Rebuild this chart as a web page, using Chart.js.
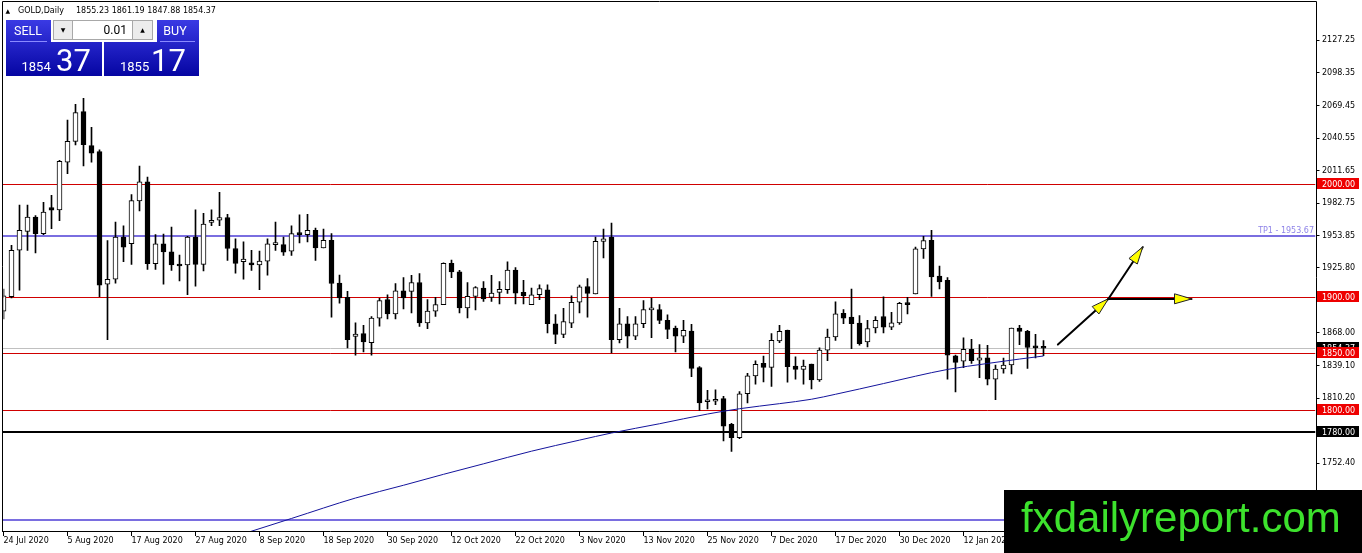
<!DOCTYPE html>
<html><head><meta charset="utf-8">
<script src="https://cdn.jsdelivr.net/npm/chart.js@4.4.1/dist/chart.umd.min.js"></script>
<style>html,body{margin:0;padding:0;background:#fff;overflow:hidden}#wrap{position:relative;width:1362px;height:553px}canvas{display:block}</style>
</head><body><div id="wrap"><canvas id="c" width="1362" height="553"></canvas></div>
<script>
const dates = [
'24 Jul 2020','27 Jul 2020','28 Jul 2020','29 Jul 2020','30 Jul 2020','31 Jul 2020',
'3 Aug 2020','4 Aug 2020','5 Aug 2020','6 Aug 2020','7 Aug 2020','10 Aug 2020','11 Aug 2020','12 Aug 2020','13 Aug 2020','14 Aug 2020',
'17 Aug 2020','18 Aug 2020','19 Aug 2020','20 Aug 2020','21 Aug 2020','24 Aug 2020','25 Aug 2020','26 Aug 2020','27 Aug 2020','28 Aug 2020','31 Aug 2020',
'1 Sep 2020','2 Sep 2020','3 Sep 2020','4 Sep 2020','7 Sep 2020','8 Sep 2020','9 Sep 2020','10 Sep 2020','11 Sep 2020','14 Sep 2020','15 Sep 2020','16 Sep 2020','17 Sep 2020','18 Sep 2020',
'21 Sep 2020','22 Sep 2020','23 Sep 2020','24 Sep 2020','25 Sep 2020','28 Sep 2020','29 Sep 2020','30 Sep 2020',
'1 Oct 2020','2 Oct 2020','5 Oct 2020','6 Oct 2020','7 Oct 2020','8 Oct 2020','9 Oct 2020','12 Oct 2020','13 Oct 2020','14 Oct 2020','15 Oct 2020','16 Oct 2020',
'19 Oct 2020','20 Oct 2020','21 Oct 2020','22 Oct 2020','23 Oct 2020','26 Oct 2020','27 Oct 2020','28 Oct 2020','29 Oct 2020','30 Oct 2020',
'2 Nov 2020','3 Nov 2020','4 Nov 2020','5 Nov 2020','6 Nov 2020','9 Nov 2020','10 Nov 2020','11 Nov 2020','12 Nov 2020','13 Nov 2020',
'16 Nov 2020','17 Nov 2020','18 Nov 2020','19 Nov 2020','20 Nov 2020','23 Nov 2020','24 Nov 2020','25 Nov 2020','26 Nov 2020','27 Nov 2020','30 Nov 2020',
'1 Dec 2020','2 Dec 2020','3 Dec 2020','4 Dec 2020','7 Dec 2020','8 Dec 2020','9 Dec 2020','10 Dec 2020','11 Dec 2020',
'14 Dec 2020','15 Dec 2020','16 Dec 2020','17 Dec 2020','18 Dec 2020','21 Dec 2020','22 Dec 2020','23 Dec 2020','24 Dec 2020',
'28 Dec 2020','29 Dec 2020','30 Dec 2020','31 Dec 2020',
'4 Jan 2021','5 Jan 2021','6 Jan 2021','7 Jan 2021','8 Jan 2021','11 Jan 2021','12 Jan 2021','13 Jan 2021','14 Jan 2021','15 Jan 2021',
'18 Jan 2021','19 Jan 2021','20 Jan 2021','21 Jan 2021','22 Jan 2021','25 Jan 2021','26 Jan 2021'];

const opens = [1887.2,1900.0,1941.2,1957.9,1970.5,1955.9,1979.0,1976.9,2019.3,2037.7,2064.0,2033.9,2028.6,1911.1,1915.5,1952.9,
1947.1,1984.8,2001.8,1929.3,1946.8,1939.8,1928.1,1928.1,1952.9,1928.7,1965.8,1967.8,1970.2,1942.7,1931.0,1930.1,
1928.1,1931.6,1946.2,1946.2,1940.4,1956.2,1955.0,1958.8,1943.3,1950.0,1912.0,1899.4,1864.9,1867.3,1859.4,1881.0,
1897.4,1884.8,1905.3,1904.7,1912.6,1876.9,1887.2,1893.0,1929.6,1922.0,1890.1,1900.3,1907.6,1899.4,1903.8,1906.2,
1923.7,1903.8,1893.0,1901.8,1906.2,1876.1,1866.7,1876.6,1895.1,1909.1,1902.4,1949.1,1952.9,1862.0,1876.1,1865.0,
1876.1,1888.3,1888.6,1879.0,1872.3,1865.0,1869.6,1837.2,1807.0,1807.4,1809.7,1786.9,1775.2,1814.1,1829.9,1841.0,
1837.5,1860.9,1870.2,1838.6,1835.7,1840.4,1826.4,1852.7,1864.3,1885.4,1881.9,1876.6,1860.0,1872.3,1882.5,1873.1,
1876.9,1893.6,1902.4,1942.4,1950.0,1918.4,1914.6,1847.7,1843.0,1853.5,1843.9,1845.9,1826.9,1836.0,1839.5,1872.3,
1869.3,1855.3,1855.23];
const highs = [1906.7,1945.6,1981.3,1981.3,1972.0,1983.6,1989.8,2020.8,2056.4,2070.4,2075.7,2050.0,2030.1,1949.7,1966.1,1962.9,
1990.6,2015.8,2006.1,1955.0,1955.6,1961.7,1936.9,1953.5,1976.9,1974.0,1976.9,1992.4,1973.1,1951.2,1948.6,1941.2,
1940.4,1951.2,1966.1,1952.9,1962.9,1972.5,1973.1,1960.8,1960.0,1955.9,1919.3,1904.7,1876.9,1874.6,1882.5,1898.6,
1901.8,1911.7,1917.0,1919.0,1920.5,1897.4,1899.4,1930.1,1932.5,1923.4,1912.6,1909.1,1913.5,1919.0,1913.5,1931.0,
1925.8,1914.6,1907.6,1910.6,1910.6,1884.2,1889.8,1900.9,1910.3,1916.1,1952.9,1960.0,1965.2,1889.8,1882.5,1882.5,
1896.5,1898.6,1893.0,1883.9,1874.0,1879.0,1875.5,1838.1,1817.0,1817.6,1811.7,1787.8,1816.1,1832.2,1843.3,1847.5,
1867.3,1874.6,1870.5,1846.7,1843.8,1840.4,1854.7,1871.4,1895.6,1888.6,1906.8,1883.4,1879.0,1882.5,1900.0,1886.3,
1895.1,1899.4,1943.9,1953.5,1958.8,1927.2,1917.0,1848.3,1863.5,1862.3,1857.6,1857.0,1839.5,1845.6,1872.3,1874.6,
1870.2,1866.7,1861.19];
const lows = [1880.4,1898.9,1905.9,1941.0,1938.9,1955.0,1960.2,1967.3,2009.1,2034.5,2015.8,2019.3,1900.0,1862.0,1912.0,1931.0,
1928.7,1976.0,1924.3,1924.3,1911.1,1923.4,1914.1,1901.8,1909.4,1922.8,1962.9,1962.9,1932.2,1920.8,1915.5,1923.4,
1906.2,1919.0,1941.0,1936.6,1936.6,1947.7,1948.6,1932.2,1943.3,1881.9,1894.2,1854.7,1848.3,1851.2,1848.3,1874.0,
1880.4,1880.4,1889.2,1885.7,1873.7,1871.7,1882.5,1893.0,1917.0,1885.7,1881.3,1888.3,1895.9,1895.9,1893.6,1902.9,
1893.6,1893.6,1893.0,1897.4,1867.9,1858.5,1863.8,1872.6,1885.7,1881.9,1902.4,1934.5,1850.3,1859.1,1854.7,1862.0,
1872.6,1863.8,1876.1,1862.9,1851.2,1859.4,1829.3,1799.4,1800.6,1804.4,1772.3,1762.9,1774.3,1805.9,1822.6,1824.5,
1820.5,1859.4,1824.3,1826.9,1822.6,1818.3,1825.1,1843.3,1861.4,1876.1,1854.1,1857.0,1855.6,1867.9,1867.9,1870.8,
1875.4,1884.8,1902.4,1933.9,1900.3,1907.0,1827.0,1815.6,1837.2,1841.0,1828.4,1822.0,1808.8,1832.2,1831.6,1857.6,
1836.6,1845.9,1847.88];
const closes = [1900.9,1941.2,1958.8,1970.5,1955.9,1974.9,1976.8,2019.9,2037.7,2063.1,2034.8,2027.2,1910.3,1915.5,1952.9,1943.9,
1985.1,2001.8,1929.3,1946.8,1939.8,1928.1,1927.2,1952.9,1928.7,1964.3,1967.6,1970.2,1942.7,1929.6,1933.4,1928.1,
1931.6,1946.8,1947.1,1939.5,1955.9,1955.0,1958.8,1943.3,1950.0,1911.7,1898.9,1862.0,1867.0,1860.0,1881.0,1896.5,
1884.8,1905.3,1898.9,1912.6,1876.9,1887.2,1893.0,1929.6,1922.0,1890.1,1900.3,1908.2,1898.0,1903.2,1906.5,1923.7,
1903.2,1900.9,1901.8,1907.3,1876.1,1866.7,1878.1,1895.1,1908.8,1903.0,1949.1,1951.2,1862.0,1876.1,1865.0,1876.1,
1888.6,1889.2,1879.0,1871.1,1865.0,1870.2,1836.6,1805.9,1808.3,1808.8,1785.4,1775.2,1814.1,1829.9,1840.1,1837.5,
1861.4,1869.3,1838.1,1835.7,1838.6,1826.4,1852.7,1864.3,1884.8,1881.0,1876.1,1858.5,1871.7,1879.0,1873.1,1876.9,
1894.2,1893.0,1942.4,1949.7,1917.6,1913.2,1848.3,1841.9,1853.5,1843.3,1845.9,1826.9,1836.0,1839.5,1872.3,1869.3,
1855.0,1854.7,1854.37];

const maBars   = [26, 31, 36, 44, 50, 55, 60, 66, 72, 76, 82, 88, 92, 97, 101, 104, 110, 114, 118, 123, 127, 130];
const maValues = [1681.0,1692.3,1703.6,1721.7,1733.0,1742.7,1752.0,1763.2,1773.0,1779.3,1787.5,1796.1,1800.8,1805.3,1809.2,1813.6,1823.1,1829.6,1835.6,1840.9,1844.8,1847.5];

const yTickValues = [2127.25,2098.35,2069.45,2040.55,2011.65,1982.75,1953.85,1925.80,1896.90,1868.00,1839.10,1810.20,1781.30,1752.40,1723.50];
const redLevels = [2000, 1900, 1850, 1800];
const blackLevels = [1780];
const tpLevel = 1953.67;
const lowBlueLevel = 1702;
const lastPrice = 1854.37;
const headerSymbol = 'GOLD,Daily';
const headerOHLC = ['1855.23','1861.19','1847.88','1854.37'];
const bidParts = ['1854','37'];
const askParts = ['1855','17'];
const lotText = '0.01';
const arrowStart = [131.8, 1857.6];
const arrowMid = [138.1, 1898.0];
const arrowUp = [142.4, 1943.9];
const arrowRight = [148.5, 1898.0];
const futureBars = 34;

const labels = dates.concat(new Array(futureBars).fill(''));
const bodies = opens.map((o, i) => [o, closes[i]]);
const wicks = lows.map((l, i) => [l, highs[i]]);
const bodyColors = opens.map((o, i) => closes[i] >= o ? '#ffffff' : '#000000');
const maData = labels.map(() => null);
maBars.forEach((b, k) => { maData[b] = maValues[k]; });

const FONT = '"DejaVu Sans"';
const SLATE = '#7a6ee0';

function drawArrow(ctx, x1, y1, x2, y2) {
  ctx.save();
  ctx.strokeStyle = '#000'; ctx.lineWidth = 2; ctx.lineCap = 'round';
  ctx.beginPath(); ctx.moveTo(x1, y1); ctx.lineTo(x2, y2); ctx.stroke();
  const ang = Math.atan2(y2 - y1, x2 - x1);
  const len = 17, hw = 4.8;
  const bx = x2 - len * Math.cos(ang), by = y2 - len * Math.sin(ang);
  const px = -Math.sin(ang) * hw, py = Math.cos(ang) * hw;
  ctx.beginPath();
  ctx.moveTo(x2, y2); ctx.lineTo(bx + px, by + py); ctx.lineTo(bx - px, by - py); ctx.closePath();
  ctx.fillStyle = '#ffff00'; ctx.fill();
  ctx.lineWidth = 1; ctx.strokeStyle = '#222'; ctx.stroke();
  ctx.restore();
}

const mtPlugin = {
  id: 'mt',
  beforeDatasetsDraw(chart) {
    const {ctx, chartArea: a, scales: {y}} = chart;
    ctx.save();
    ctx.beginPath(); ctx.rect(a.left - 1, a.top, a.right - a.left + 1, a.bottom - a.top); ctx.clip();
    const hline = (v, color, w) => {
      const p = y.getPixelForValue(v);
      const yy = w === 1 ? Math.round(p) + 0.5 : Math.round(p);
      ctx.strokeStyle = color; ctx.lineWidth = w;
      ctx.beginPath(); ctx.moveTo(a.left - 1, yy); ctx.lineTo(a.right, yy); ctx.stroke();
    };
    hline(lastPrice, '#c0c0c0', 1);
    redLevels.forEach(v => hline(v, '#d00000', 1));
    blackLevels.forEach(v => hline(v, '#000000', 2));
    hline(tpLevel, SLATE, 2);
    hline(lowBlueLevel, SLATE, 2);
    ctx.restore();
  },
  afterDraw(chart) {
    const {ctx, chartArea: a, scales: {x, y}} = chart;
    ctx.save();
    ctx.strokeStyle = '#000'; ctx.lineWidth = 1;
    ctx.beginPath();
    ctx.moveTo(2.5, 1.5); ctx.lineTo(1316.5, 1.5);
    ctx.moveTo(2.5, 1.5); ctx.lineTo(2.5, 532);
    ctx.moveTo(1316.5, 1.5); ctx.lineTo(1316.5, 553);
    ctx.moveTo(2, 531.5); ctx.lineTo(1316.5, 531.5);
    ctx.stroke();

    ctx.font = '8px ' + FONT; ctx.fillStyle = '#8f84e8'; ctx.textAlign = 'right'; ctx.textBaseline = 'alphabetic';
    ctx.fillText('TP1 - ' + tpLevel.toFixed(2), 1314, Math.round(y.getPixelForValue(tpLevel)) - 3);

    const box = (v, bg) => {
      const p = Math.round(y.getPixelForValue(v));
      ctx.fillStyle = bg; ctx.fillRect(1317, p - 6, 42, 11);
      ctx.fillStyle = '#fff'; ctx.font = '8px ' + FONT; ctx.textAlign = 'left'; ctx.textBaseline = 'alphabetic';
      ctx.fillText(v.toFixed(2), 1322, p + 3);
    };
    box(lastPrice, '#000');
    redLevels.forEach(v => box(v, '#ee0000'));
    blackLevels.forEach(v => box(v, '#000'));

    const P = (pt) => [x.getPixelForValue(pt[0]), y.getPixelForValue(pt[1])];
    const s = P(arrowStart), m = P(arrowMid), u = P(arrowUp), r = P(arrowRight);
    drawArrow(ctx, s[0], s[1], m[0], m[1]);
    drawArrow(ctx, m[0], m[1], u[0], u[1]);
    drawArrow(ctx, m[0], m[1], r[0], r[1]);

    ctx.fillStyle = '#000'; ctx.textAlign = 'left'; ctx.textBaseline = 'alphabetic';
    ctx.font = '6px ' + FONT; ctx.fillText('▲', 5.5, 12.5);
    ctx.font = '8px ' + FONT;
    ctx.fillText(headerSymbol, 18, 12.7);
    ctx.fillText(headerOHLC.join(' '), 76, 12.7);

    const g = ctx.createLinearGradient(0, 20, 0, 76);
    g.addColorStop(0, '#3a3ae4'); g.addColorStop(1, '#0505a2');
    ctx.fillStyle = g;
    ctx.fillRect(6, 20, 45, 22);
    ctx.fillRect(6, 42, 96, 34);
    ctx.fillRect(157, 20, 42, 22);
    ctx.fillRect(104, 42, 95, 34);
    ctx.strokeStyle = '#8a8aff'; ctx.lineWidth = 1;
    ctx.beginPath(); ctx.moveTo(10, 41.5); ctx.lineTo(47, 41.5); ctx.moveTo(160, 41.5); ctx.lineTo(195, 41.5); ctx.stroke();
    ctx.fillStyle = '#ececec'; ctx.fillRect(53, 20, 100, 20);
    ctx.fillStyle = '#ffffff'; ctx.fillRect(73, 21, 59, 18);
    ctx.strokeStyle = '#a8a8a8';
    ctx.strokeRect(53.5, 20.5, 99, 19);
    ctx.beginPath(); ctx.moveTo(72.5, 21); ctx.lineTo(72.5, 39); ctx.moveTo(132.5, 21); ctx.lineTo(132.5, 39); ctx.stroke();
    ctx.fillStyle = '#000'; ctx.font = '6px ' + FONT; ctx.textAlign = 'center'; ctx.textBaseline = 'middle';
    ctx.fillText('▼', 63, 30); ctx.fillText('▲', 142.5, 30);
    ctx.textBaseline = 'alphabetic';
    ctx.font = '12px Roboto'; ctx.textAlign = 'right'; ctx.fillText(lotText, 127, 34.3);
    ctx.fillStyle = '#fff'; ctx.textAlign = 'center'; ctx.font = '12.5px Roboto';
    ctx.fillText('SELL', 28, 35); ctx.fillText('BUY', 175, 35);
    ctx.textAlign = 'left';
    ctx.font = '13px Roboto'; ctx.fillText(bidParts[0], 21.5, 70.5); ctx.fillText(askParts[0], 120, 70.5);
    ctx.font = '31px Roboto'; ctx.fillText(bidParts[1], 56, 70.5); ctx.fillText(askParts[1], 151, 70.5);

    ctx.fillStyle = '#000'; ctx.fillRect(1004, 490, 358, 63);
    ctx.fillStyle = '#3de22d'; ctx.font = '42px "Liberation Sans"'; ctx.textAlign = 'left';
    ctx.fillText('fxdailyreport.com', 1021, 531.5);
    ctx.restore();
  }
};

new Chart(document.getElementById('c'), {
  type: 'bar',
  data: {
    labels: labels,
    datasets: [
      {type: 'line', data: maData, borderColor: '#14149c', borderWidth: 1, pointRadius: 0, spanGaps: true, cubicInterpolationMode: 'monotone', order: 0},
      {type: 'bar', data: bodies, backgroundColor: bodyColors, borderColor: '#000', borderWidth: 1, borderSkipped: false,
       barThickness: 5, minBarLength: 2, stack: 'c', order: 1},
      {type: 'bar', data: wicks, backgroundColor: '#000', borderWidth: 0, barThickness: 1, stack: 'c', order: 2}
    ]
  },
  options: {
    responsive: false, animation: false, devicePixelRatio: 1,
    layout: {padding: {left: 3.5, top: 2, right: 0, bottom: 0}},
    plugins: {legend: {display: false}, tooltip: {enabled: false}},
    scales: {
      x: {
        type: 'category', offset: false,
        grid: {display: true, offset: false, drawOnChartArea: false, drawTicks: true, tickLength: 4, color: '#000'},
        border: {display: false},
        ticks: {autoSkip: false, maxRotation: 0, minRotation: 0, align: 'start', padding: 0, color: '#000', font: {family: 'DejaVu Sans', size: 8}},
        afterBuildTicks: (s) => { s.ticks = s.ticks.filter(t => t.value % 8 === 0 && t.value < dates.length); },
        afterFit: (s) => { s.height = 21; }
      },
      y: {
        position: 'right', min: 1691.6, max: 2156.4, stacked: false,
        grid: {display: true, drawOnChartArea: false, drawTicks: true, tickLength: 4, color: '#000'},
        border: {display: false},
        ticks: {padding: 2.5, color: '#000', font: {family: 'DejaVu Sans', size: 8}, callback: (v) => Number(v).toFixed(2)},
        afterBuildTicks: (s) => { s.ticks = yTickValues.map(v => ({value: v})); },
        afterFit: (s) => { s.width = 46.5; }
      }
    }
  },
  plugins: [mtPlugin]
});
</script>
</body></html>
